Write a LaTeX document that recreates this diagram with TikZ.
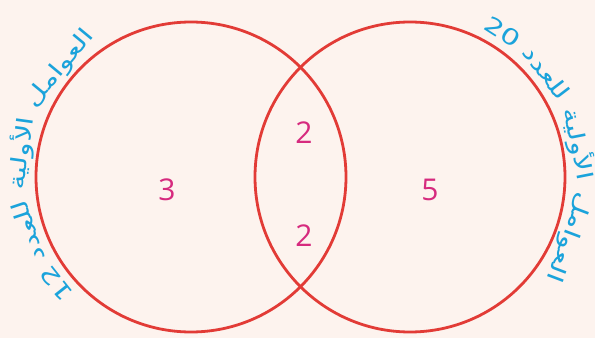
\documentclass[tikz,border=0pt]{standalone}
\usepackage{fontspec}
\setmainfont{Open Sans}
\newfontfamily\arabicfont[Script=Arabic, FakeStretch=1.35]{DejaVu Sans}
\TeXXeTstate=1
\usepackage{xcolor}
\usetikzlibrary{calc}

\definecolor{vennred}{HTML}{E23B36}
\definecolor{factorpink}{HTML}{D62A7E}
\definecolor{labelblue}{HTML}{1BA3DB}
\definecolor{paper}{HTML}{FDF3EE}

\newcommand\lblfont{\arabicfont\fontsize{22}{24}\selectfont}
\newlength\wordlen
% angles for words laid clockwise round the outside of a set
\newcommand\arcwords[4]{%
  \xdef\curang{#3}\gdef\placed{}%
  \foreach \w in {#4}{%
    \settowidth\wordlen{\lblfont\w}%
    \pgfmathsetmacro\wspan{\wordlen/#2*57.2958}%
    \pgfmathsetmacro\wmid{\curang-\wspan/2}%
    \pgfmathsetmacro\wnext{\curang-\wspan-2.6}%
    \xdef\curang{\wnext}%
    \ifx\placed\empty\xdef\placed{\wmid/\w}\else\xdef\placed{\placed,\wmid/\w}\fi
  }%
  \expandafter\global\expandafter\let\csname #1words\endcsname\placed}

\begin{document}
\arcwords{left}{164}{225}{12, \beginR للعدد\endR, \beginR الأولية\endR, \beginR العوامل\endR}
\arcwords{right}{164}{64}{20, \beginR للعدد\endR, \beginR الأولية\endR, \beginR العوامل\endR}
\begin{tikzpicture}[
  x=1pt, y=1pt,
  set/.style={circle, draw=vennred, line width=2.8pt, minimum size=310pt, inner sep=0pt},
  num/.style={text=factorpink, font=\fontsize{30}{32}\selectfont, inner sep=0pt},
  lbl/.style={text=labelblue, font=\lblfont, anchor=base, inner sep=0pt}
]
  \fill[paper] (0,0) rectangle (595,338);
  \useasboundingbox (0,0) rectangle (595,338);

  \node[set] (left) at (191,161) {};
  \node[set] (right) at (410,161) {};

  \node[num] (onlyA) at (167,148) {3};
  \node[num] (bothA) at (304,205) {2};
  \node[num] (bothB) at (304,102) {2};
  \node[num] (onlyB) at (430,148) {5};

  % labels round the two sets
  \foreach \a/\w [count=\i] in \leftwords
    \node[lbl, rotate=\a-90] (left-w\i) at ($(left.center)+(\a:164)$) {\w};
  \foreach \a/\w [count=\i] in \rightwords
    \node[lbl, rotate=\a-90] (right-w\i) at ($(right.center)+(\a:164)$) {\w};
\end{tikzpicture}
\end{document}
